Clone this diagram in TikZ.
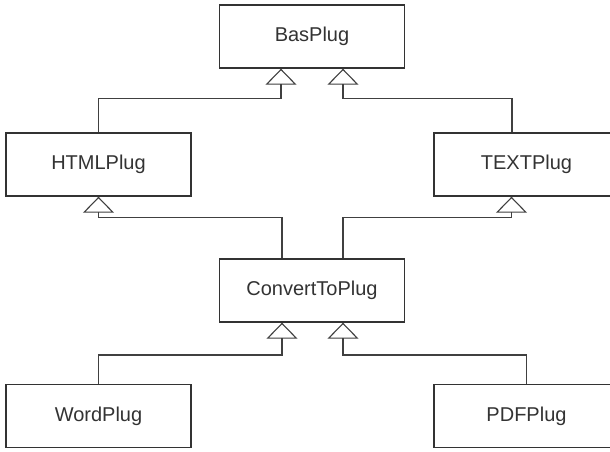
\documentclass[tikz,border=0pt]{standalone}
\usepackage{fontspec}
\setmainfont{Liberation Sans}
\usetikzlibrary{arrows.meta}
\begin{document}
\begin{tikzpicture}[x=1pt,y=-1pt,
  cls/.style={draw=black!80, line width=1.4pt, fill=white, minimum width=185pt,
    minimum height=63pt, inner sep=0pt, font=\fontsize{20}{24}\selectfont, text=black!80},
  inh/.style={draw=black!75, line width=1.5pt,
    -{Triangle[open, width=31pt, length=16pt, line width=1.1pt]}}]
\useasboundingbox (0,0) rectangle (610,451);
\clip (0,0) rectangle (610,451);
\fill[white] (0,0) rectangle (610,451);
\node[cls] (bas)  at (312,36.5)   {BasPlug};
\node[cls] (html) at (98.5,164.5) {HTMLPlug};
\node[cls] (text) at (526.5,164.5) {TEXTPlug};
\node[cls] (conv) at (312,290.5)  {ConvertToPlug};
\node[cls] (word) at (98.5,416)   {WordPlug};
\node[cls] (pdf)  at (526.5,416)  {PDFPlug};
\draw[inh] (html.north) -- ++(0,-34) -| ([xshift=-31pt]bas.south);
\draw[inh] ([xshift=-14.5pt]text.north) -- ++(0,-34) -| ([xshift=31pt]bas.south);
\draw[inh] ([xshift=-30pt]conv.north) -- ++(0,-41) -| (html.south);
\draw[inh] ([xshift=31pt]conv.north) -- ++(0,-41) -| ([xshift=-15pt]text.south);
\draw[inh] (word.north) -- ++(0,-29) -| ([xshift=-30pt]conv.south);
\draw[inh] (pdf.north) -- ++(0,-29) -| ([xshift=31pt]conv.south);
\end{tikzpicture}
\end{document}
